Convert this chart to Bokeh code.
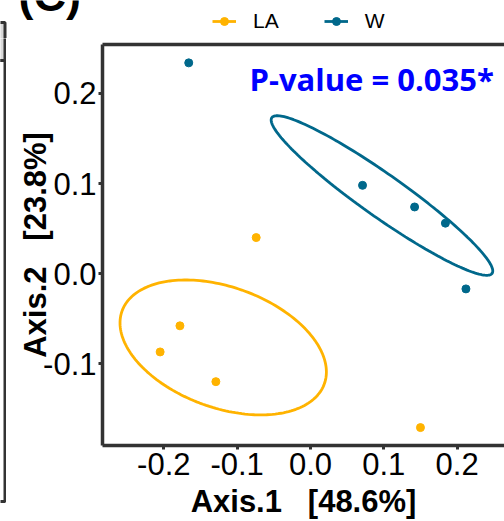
import numpy as np
from bokeh.plotting import figure
from bokeh.layouts import row, column
from bokeh.models import (Range1d, Legend, LegendItem, Label, LinearAxis,
                          FixedTicker, NumeralTickFormatter)
from bokeh.core.properties import value
from bokeh.embed import file_html
from bokeh.resources import INLINE

# PCoA coordinates per group
groups = ["LA", "W"]
colors = ["#FFB300", "#00688B"]
la_x = [-0.074, -0.178, -0.205, -0.129, 0.150]
la_y = [0.040, -0.058, -0.087, -0.120, -0.171]
w_x = [-0.166, 0.071, 0.142, 0.184, 0.212]
w_y = [0.234, 0.098, 0.074, 0.056, -0.017]

# confidence ellipses: centre (x, y) and shape matrix (sxx, syy, sxy)
la_ellipse = [(-0.119, -0.082), (0.0198, 0.00561, -0.00383)]
w_ellipse = [(0.0975, 0.0867), (0.02283, 0.00785, -0.01266)]

x_ticks = [-0.2, -0.1, 0.0, 0.1, 0.2]
y_ticks = [-0.1, 0.0, 0.1, 0.2]
x_title = "Axis.1\u00a0\u00a0\u00a0[48.6%]"
y_title = "Axis.2\u00a0\u00a0\u00a0[23.8%]"
p_text = "P-value = 0.035*"
panel_tag = "(C)"

DARK = "#333333"
TICK_FONT = "Liberation Sans"


def ellipse_outline(spec, n=200):
    (cx, cy), (sxx, syy, sxy) = spec
    L = np.linalg.cholesky(np.array([[sxx, sxy], [sxy, syy]]))
    t = np.linspace(0, 2 * np.pi, n)
    pts = L @ np.vstack([np.cos(t), np.sin(t)])
    return cx + pts[0], cy + pts[1]


def bare(w, h, xr, yr):
    fig = figure(width=w, height=h, x_range=Range1d(*xr), y_range=Range1d(*yr),
                 output_backend="svg", toolbar_location=None, title_location=None,
                 x_axis_location=None, y_axis_location=None, min_border=0)
    fig.outline_line_color = None
    fig.grid.visible = False
    fig.background_fill_color = "white"
    fig.border_fill_color = "white"
    return fig


# header, left part: panel tag and top of the neighbouring panel's edge
tag_fig = bare(102, 38, (0, 102), (38, 0))
tag_fig.text(x=[18], y=[-5], text=[panel_tag], text_font=value(TICK_FONT),
             text_font_style="bold", text_font_size="45px",
             text_baseline="alphabetic", text_color="black")
tag_fig.quad(left=[-3], right=[4.5], top=[22], bottom=[60],
             fill_color="#D9D9D9", line_color=DARK, line_width=3)

# header, right part: legend
key_fig = bare(402, 38, (0, 1), (0, 1))

# strip with the rest of the neighbouring panel's edge
strip_fig = bare(6, 483, (0, 6), (521, 38))
strip_fig.quad(left=[-3], right=[4.5], top=[22], bottom=[60],
               fill_color="#D9D9D9", line_color=DARK, line_width=3)
strip_fig.quad(left=[-3], right=[4.5], top=[60], bottom=[501],
               fill_alpha=0, line_color=DARK, line_width=3)

# main scatter panel
p = figure(width=498, height=483,
           x_range=Range1d(-0.2836, 0.2646), y_range=Range1d(-0.1909, 0.2544),
           output_backend="svg", toolbar_location=None, title_location=None,
           min_border_left=96, min_border_right=0,
           min_border_top=6, min_border_bottom=69)
p.outline_line_color = None
p.grid.visible = False
p.background_fill_color = "white"
p.border_fill_color = "white"

xax = p.xaxis[0]
yax = p.yaxis[0]

items = []
for name, col, xs, ys, ell in [("LA", colors[0], la_x, la_y, la_ellipse),
                               ("W", colors[1], w_x, w_y, w_ellipse)]:
    ex, ey = ellipse_outline(ell)
    p.line(ex, ey, line_color=col, line_width=2.8)
    p.scatter(xs, ys, size=8, fill_color=col, line_color=col)
    # legend keys (kept outside the visible range of the header)
    k_line = key_fig.line(x=[-5, -4], y=[-5, -5], line_color=col, line_width=2.8)
    k_pt = key_fig.scatter(x=[-5], y=[-5], size=8, fill_color=col, line_color=col)
    items.append(LegendItem(label=name, renderers=[k_line, k_pt]))

legend = Legend(items=items, orientation="horizontal", location=(110, 5),
                border_line_color=None, background_fill_alpha=0,
                label_text_font=TICK_FONT, label_text_font_size="21px",
                label_text_color="black",
                glyph_width=24, glyph_height=20, label_standoff=17,
                spacing=45, padding=0, margin=0)
key_fig.add_layout(legend, "center")

for ax in (xax, yax):
    ax.axis_line_color = DARK
    ax.axis_line_width = 3.5
    ax.major_tick_line_color = DARK
    ax.major_tick_line_width = 3
    ax.major_tick_out = 4
    ax.major_tick_in = 0
    ax.minor_tick_line_color = None
    ax.major_label_text_font = TICK_FONT
    ax.major_label_text_font_size = "31px"
    ax.major_label_text_color = "black"
    ax.axis_label_text_font = TICK_FONT
    ax.axis_label_text_font_style = "bold"
    ax.axis_label_text_font_size = "31px"
    ax.axis_label_text_color = "black"
    ax.formatter = NumeralTickFormatter(format="0.0")

xax.ticker = FixedTicker(ticks=x_ticks)
yax.ticker = FixedTicker(ticks=y_ticks)
xax.axis_label = x_title
yax.axis_label = y_title
xax.major_label_standoff = 3
yax.major_label_standoff = 2
xax.axis_label_standoff = 6
yax.axis_label_standoff = -13

# top border of the panel
top_axis = LinearAxis(ticker=FixedTicker(ticks=[]), axis_line_color=DARK, axis_line_width=3.5,
                      major_tick_line_color=None, minor_tick_line_color=None,
                      major_tick_out=0, major_tick_in=0, major_label_standoff=0)
p.add_layout(top_axis, "above")

p.add_layout(Label(x=-0.0832, y=0.216, text=p_text, text_color="blue",
                   text_font="Open Sans", text_font_style="bold",
                   text_font_size="31px", text_baseline="alphabetic"))

layout = column([row([tag_fig, key_fig], spacing=0),
                 row([strip_fig, column([p], spacing=0)], spacing=0)], spacing=0)
open("out.html", "w").write(file_html(layout, INLINE))
